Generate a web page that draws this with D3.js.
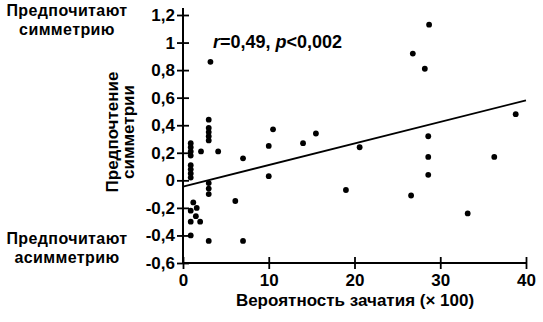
<!DOCTYPE html>
<html>
<head>
<meta charset="utf-8">
<script src="https://cdn.jsdelivr.net/npm/d3@7"></script>
<style>
  body { margin: 0; background: #fff; }
  svg { display: block; }
  text { font-family: "Liberation Sans", Arial, sans-serif; font-weight: bold; fill: #000; }
</style>
</head>
<body>
<svg id="chart" width="543" height="322"></svg>
<script>
// Conception probability (x 100) for each observation
const conceptionX = [
  0.9, 0.9, 0.9, 0.9,
  0.9, 0.9, 0.9, 0.9,
  2.1, 4.1,
  3.0, 3.0, 3.0, 3.0, 3.0,
  3.2,
  3.0, 3.0, 3.0,
  6.1, 7.0, 7.0, 3.0, 0.9,
  1.2, 1.6, 0.9, 1.5, 0.9, 2.0,
  10.0, 10.0, 10.5, 14.0, 15.5, 19.0, 20.6,
  26.6, 26.8, 28.2, 28.7, 28.6, 28.6, 28.6,
  33.2, 36.3, 38.8
];
// Symmetry preference for each observation
const symmetryY = [
  0.27, 0.24, 0.21, 0.18,
  0.11, 0.08, 0.05, 0.02,
  0.21, 0.21,
  0.44, 0.38, 0.35, 0.32, 0.29,
  0.86,
  -0.02, -0.06, -0.10,
  -0.15, 0.16, -0.44, -0.44, -0.40,
  -0.16, -0.20, -0.22, -0.26, -0.30, -0.30,
  0.25, 0.03, 0.37, 0.27, 0.34, -0.07, 0.24,
  -0.11, 0.92, 0.81, 1.13, 0.32, 0.17, 0.04,
  -0.24, 0.17, 0.48
];
// Fitted regression line endpoints
const fitX = [0, 40];
const fitY = [-0.045, 0.58];

const xTicks = [0, 10, 20, 30, 40];
const yTicks = [-0.6, -0.4, -0.2, 0, 0.2, 0.4, 0.6, 0.8, 1, 1.2];

const svg = d3.select("#chart");
const x = d3.scaleLinear().domain([0, 40]).range([183, 526]);
const y = d3.scaleLinear().domain([-0.6, 1.2]).range([263, 15]);

const fmt = d => String(+d.toFixed(1)).replace(".", ",");

// Axes
const yAxis = svg.append("g")
  .attr("transform", `translate(${x(0)},0)`)
  .call(d3.axisLeft(y).tickValues(yTicks).tickFormat(fmt).tickSize(6).tickPadding(2));
const xAxis = svg.append("g")
  .attr("transform", `translate(0,${y(-0.6)})`)
  .call(d3.axisBottom(x).tickValues(xTicks).tickFormat(d3.format("d")).tickSize(6).tickPadding(5));

[yAxis, xAxis].forEach(g => {
  g.select(".domain").remove();
  g.selectAll(".tick text").style("font-size", "17px").attr("fill", "#000");
  g.selectAll(".tick line").attr("stroke", "#000").attr("stroke-width", 1.8);
});
yAxis.selectAll(".tick line").attr("x1", -6).attr("x2", 6);
xAxis.selectAll(".tick line").attr("y1", -6).attr("y2", 6);

// Axis lines
svg.append("line")
  .attr("x1", x(0)).attr("x2", x(0))
  .attr("y1", y(1.2) - 7).attr("y2", y(-0.6))
  .attr("stroke", "#000").attr("stroke-width", 2);
svg.append("line")
  .attr("x1", x(0)).attr("x2", x(40))
  .attr("y1", y(-0.6)).attr("y2", y(-0.6))
  .attr("stroke", "#000").attr("stroke-width", 2);

// Regression line
svg.append("line")
  .attr("x1", x(fitX[0])).attr("y1", y(fitY[0]))
  .attr("x2", x(fitX[1])).attr("y2", y(fitY[1]))
  .attr("stroke", "#000").attr("stroke-width", 1.8);

// Points
svg.append("g").selectAll("circle")
  .data(conceptionX.map((v, i) => [v, symmetryY[i]]))
  .join("circle")
  .attr("cx", d => x(d[0]))
  .attr("cy", d => y(d[1]))
  .attr("r", 2.9)
  .attr("fill", "#000");

// Correlation note
const note = svg.append("text")
  .attr("x", 213).attr("y", 48)
  .style("font-size", "18px");
note.append("tspan").style("font-style", "italic").text("r");
note.append("tspan").text("=0,49, ");
note.append("tspan").style("font-style", "italic").text("p");
note.append("tspan").text("<0,002");

// Side labels
const side = (lines, cx, cy) => {
  const t = svg.append("text").attr("text-anchor", "middle")
    .style("font-size", "16px").style("letter-spacing", "0.4px");
  lines.forEach((s, i) => t.append("tspan").attr("x", cx).attr("y", cy + i * 19).text(s));
};
side(["Предпочитают", "симметрию"], 67, 16);
side(["Предпочитают", "асимметрию"], 67, 244);

// Y-axis title
const yt = svg.append("text")
  .attr("text-anchor", "middle")
  .attr("transform", "translate(112,132) rotate(-90)")
  .style("font-size", "17px");
yt.append("tspan").attr("x", 0).attr("y", 6).text("Предпочтение");
yt.append("tspan").attr("x", 0).attr("y", 22).text("симметрии");

// X-axis title
svg.append("text")
  .attr("x", 355).attr("y", 306)
  .attr("text-anchor", "middle")
  .style("font-size", "17px")
  .text("Вероятность зачатия (× 100)");
</script>
</body>
</html>
